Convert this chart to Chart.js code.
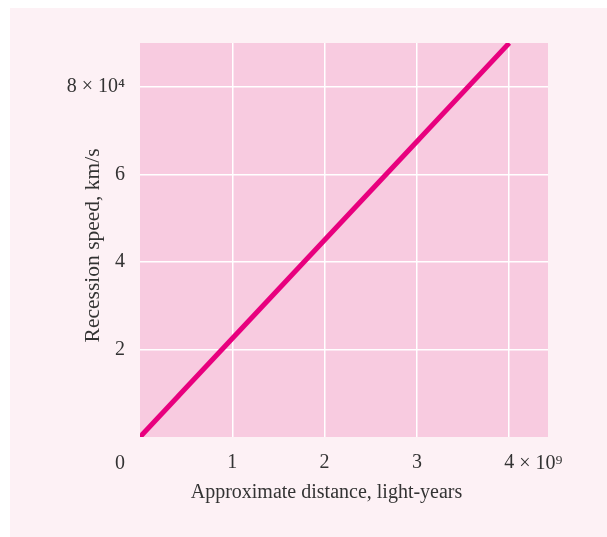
<!DOCTYPE html>
<html>
<head>
<meta charset="utf-8">
<script src="https://cdn.jsdelivr.net/npm/chart.js@4.4.1/dist/chart.umd.min.js"></script>
<style>
  html, body { margin: 0; padding: 0; background: #ffffff; overflow: hidden; }
  #wrap { position: fixed; left: 10px; top: 8px; right: 0; bottom: 0; background: #fdf1f5; overflow: hidden; }
  canvas { display: block; }
</style>
</head>
<body>
<div id="wrap"><canvas id="hubbleChart" width="597" height="529"></canvas></div>
<script>
// distance in units of 10^9 light-years, speed in km/s
var distances = [0, 4];
var speeds = [0, 90000];
var xTicks = [1, 2, 3, 4];
var yTicks = [20000, 40000, 60000, 80000];
var xLabels = ['1', '2', '3', '4'];
var yLabels = ['2', '4', '6', '8 × 10⁴'];

var serif = '"Liberation Serif", "DejaVu Serif", serif';
var textColor = '#333333';
var fontSize = 20;
var nb = '\u00a0';

var points = distances.map(function (d, i) { return { x: d, y: speeds[i] }; });

// pink plot box, plus the shared "0" and the x exponent
var extras = {
    id: 'extras',
    beforeDraw: function (chart) {
        var a = chart.chartArea, c = chart.ctx;
        c.save();
        c.fillStyle = '#f8cbe0';
        c.fillRect(a.left, a.top, a.right - a.left, a.bottom - a.top);
        c.restore();
    },
    afterDraw: function (chart) {
        var xs = chart.scales.x, c = chart.ctx;
        c.save();
        c.font = fontSize + 'px ' + serif;
        c.fillStyle = textColor;
        c.textBaseline = 'middle';
        var rowY = xs.top + 27;
        c.textAlign = 'center';
        c.fillText('0', xs.getPixelForValue(0) - 20, rowY);
        var last = xTicks[xTicks.length - 1];
        var afterFour = xs.getPixelForValue(last) + c.measureText(xLabels[xLabels.length - 1]).width / 2;
        c.textAlign = 'left';
        c.fillText(' × 10⁹', afterFour, rowY);
        c.restore();
    }
};

var ctx = document.getElementById('hubbleChart');
var hubbleChart = new Chart(ctx, {
    type: 'scatter',
    data: {
        datasets: [{
            data: points,
            showLine: true,
            borderColor: '#e8007e',
            borderWidth: 5,
            pointRadius: 0,
            clip: 0
        }]
    },
    options: {
        responsive: false,
        animation: false,
        layout: { padding: { top: 35, right: 59, left: 0, bottom: 0 } },
        plugins: { legend: { display: false }, tooltip: { enabled: false } },
        scales: {
            x: {
                type: 'linear',
                min: 0,
                max: 4.42,
                afterBuildTicks: function (scale) {
                    scale.ticks = xTicks.map(function (v) { return { value: v }; });
                },
                afterFit: function (scale) { scale.height = 100; },
                border: { display: false },
                grid: { color: '#ffffff', lineWidth: 1.5, drawTicks: false },
                ticks: {
                    padding: 14,
                    maxRotation: 0,
                    autoSkip: false,
                    color: textColor,
                    font: { family: serif, size: fontSize },
                    callback: function (value, index) { return xLabels[index]; }
                },
                title: {
                    display: true,
                    // trailing spaces pull the title left of the plot centre, as in the original
                    text: 'Approximate distance, light-years' + nb.repeat(7),
                    color: textColor,
                    font: { family: serif, size: fontSize },
                    padding: { top: 0, bottom: 32 }
                }
            },
            y: {
                type: 'linear',
                min: 0,
                max: 90000,
                afterBuildTicks: function (scale) {
                    scale.ticks = yTicks.map(function (v) { return { value: v }; });
                },
                afterFit: function (scale) { scale.width = 130; },
                border: { display: false },
                grid: { color: '#ffffff', lineWidth: 1.5, drawTicks: false },
                ticks: {
                    padding: 15,
                    autoSkip: false,
                    color: textColor,
                    font: { family: serif, size: fontSize },
                    callback: function (value, index) { return yLabels[index]; }
                },
                title: {
                    display: true,
                    text: 'Recession speed, km/s' + nb + nb,
                    color: textColor,
                    font: { family: serif, size: 21.5 },
                    padding: { top: 70, bottom: 0 }
                }
            }
        }
    },
    plugins: [extras]
});
</script>
</body>
</html>
